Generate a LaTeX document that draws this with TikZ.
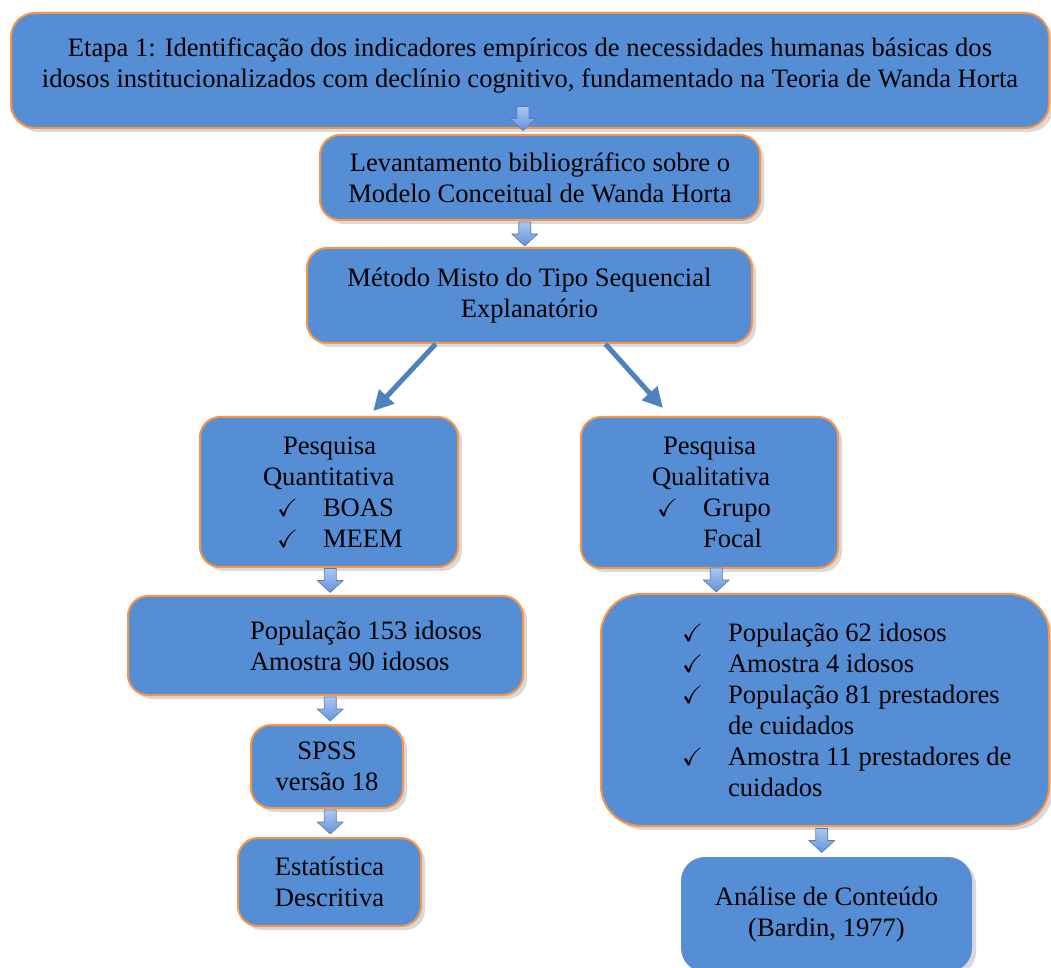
\documentclass[tikz,border=0pt]{standalone}
\usepackage{fontspec}
\setmainfont{Liberation Serif}
\usepackage{amssymb}
\usetikzlibrary{calc,shadows,arrows.meta}
\definecolor{azulcaixa}{RGB}{85,142,213}
\definecolor{borda}{RGB}{247,150,70}
\definecolor{seta}{RGB}{79,129,189}
\definecolor{setaclara}{RGB}{172,199,240}
\definecolor{setaescura}{RGB}{100,146,218}
\newcommand\chk{\makebox[23pt][l]{\fontsize{12.5}{13}\selectfont$\checkmark$}}
\tikzset{
	caixa/.style={draw=borda, line width=1pt, fill=azulcaixa, rounded corners=10pt, inner sep=0pt,
		font=\fontsize{13.3}{15.5}\selectfont,
		drop shadow={shadow xshift=2pt, shadow yshift=-2pt, opacity=.3}},
	diag/.style={seta, line width=2.5pt, -{Triangle[length=10pt,width=10pt]}},
	downarr/.pic={
		\path[top color=setaclara, bottom color=setaescura, draw=setaescura!85!black, line width=.3pt]
		(-6,-12) -- (6,-12) -- (6,0) -- (13,0) -- (0,12) -- (-13,0) -- (-6,0) -- cycle;}
}
\begin{document}
\begin{tikzpicture}[x=0.5pt, y=-0.5pt, line join=round]
	%Moldura
	\useasboundingbox (0,0) rectangle (1051,968);
	%Caixas
	\node[caixa, align=center, minimum width=519pt, minimum height=57.5pt, rounded corners=12pt] (etapa) at (530,70.5)
	{Etapa 1: Identificação dos indicadores empíricos de necessidades humanas básicas dos\\
		idosos institucionalizados com declínio cognitivo, fundamentado na Teoria de Wanda Horta\\[-7.5pt]\mbox{}};
	\node[caixa, align=center, minimum width=220pt, minimum height=42.5pt] (lev) at (540,177.5)
	{Levantamento bibliográfico sobre o\\Modelo Conceitual de Wanda Horta};
	\node[caixa, align=center, minimum width=222.5pt, minimum height=47.5pt] (met) at (529.5,295.5)
	{Método Misto do Tipo Sequencial\\Explanatório};
	\node[caixa, align=flush left, text width=129pt, minimum height=75pt] (quant) at (329,492)
	{\hspace*{41.5pt}Pesquisa\\\hspace*{31.5pt}Quantitativa\\
		\hspace*{38.5pt}\chk BOAS\\\hspace*{38.5pt}\chk MEEM};
	\node[caixa, align=flush left, text width=128.5pt, minimum height=75.5pt] (qual) at (709.5,492.5)
	{\hspace*{41pt}Pesquisa\\\hspace*{35.5pt}Qualitativa\\
		\hspace*{38pt}\chk Grupo\\\hspace*{61pt}Focal};
	\node[caixa, align=flush left, text width=197.5pt, minimum height=49.5pt] (pop) at (325.5,645.5)
	{\hspace*{61pt}População 153 idosos\\\hspace*{61pt}Amostra 90 idosos};
	\node[caixa, align=flush left, text width=224pt, minimum height=116pt, rounded corners=20pt] (lista) at (825,710)
	{\hspace*{40.5pt}\chk População 62 idosos\\
		\hspace*{40.5pt}\chk Amostra 4 idosos\\
		\hspace*{40.5pt}\chk População 81 prestadores\\
		\hspace*{63.5pt}de cuidados\\
		\hspace*{40.5pt}\chk Amostra 11 prestadores de\\
		\hspace*{63.5pt}cuidados};
	\node[caixa, align=center, minimum width=76pt, minimum height=41.5pt] (spss) at (327,766.5)
	{SPSS\\versão 18};
	\node[caixa, align=center, minimum width=91.5pt, minimum height=44pt] (est) at (329.5,882)
	{Estatística\\Descritiva};
	\node[caixa, draw=none, align=center, minimum width=145.5pt, minimum height=57.5pt, rounded corners=12pt] (ana) at (826.5,914.5)
	{Análise de Conteúdo\\(Bardin, 1977)};
	%Setas diagonais
	\draw[diag] ($(met.south west)!.29!(met.south east)$) -- ($(quant.north west)!.67!(quant.north east)+(0,-5)$);
	\draw[diag] ($(met.south west)!.67!(met.south east)$) -- ($(qual.north west)!.32!(qual.north east)+(0,-8)$);
	%Setas de bloco
	\foreach \a/\b/\dx/\dy in {etapa/lev/-12/-13, lev/met/-10/0, quant/pop/3/-1, qual/lista/-51/-1,
		pop/spss/4/-1, spss/est/2/-1, lista/ana/-4/-1}
	\pic at ($(\a.south)!.5!(\b.north)+(\dx,\dy)$) {downarr};
\end{tikzpicture}
\end{document}
